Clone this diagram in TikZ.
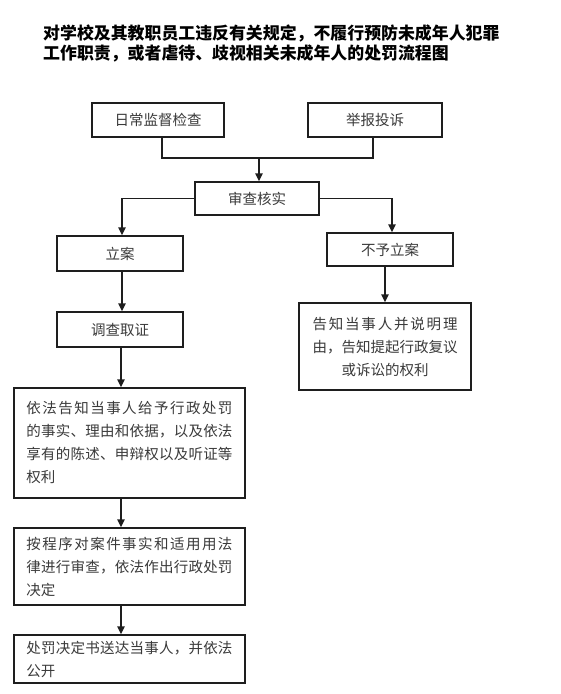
\documentclass[tikz,border=0pt]{standalone}
\usepackage{fontspec}
\setmainfont{Noto Sans CJK SC}
\usetikzlibrary{arrows.meta}
\setlength\parindent{0pt}
\makeatletter
\def\spr@ad#1#2\@nil{#1\ifx\relax#2\relax\else\hfill\spr@ad#2\@nil\fi}
\newcommand\spreadto[2]{\leavevmode\hbox to #1{\spr@ad#2\@nil}}
\makeatother
\definecolor{ln}{HTML}{1E1E1E}
\definecolor{tx}{HTML}{3A3A3A}
\tikzset{
  box/.style={draw=ln, line width=1.4pt, rectangle, inner sep=0pt, text=tx,
    font=\fontsize{14.5pt}{23pt}\selectfont},
  widebox/.style={box, minimum width=231pt, text width=206pt, align=left, inner xsep=12.5pt},
  conn/.style={draw=ln, line width=1.4pt},
  arr/.style={conn, -{Triangle[length=8pt,width=7.5pt]}},
}
\begin{document}
\begin{tikzpicture}[x=1pt,y=-1pt]
\useasboundingbox[fill=white] (0,0) rectangle (561,694);
\node[anchor=west, align=left, inner sep=0pt, font=\fontsize{16.9pt}{20pt}\selectfont\bfseries] (title) at (43,43)
  {对学校及其教职员工违反有关规定，不履行预防未成年人犯罪\\工作职责，或者虐待、歧视相关未成年人的处罚流程图};
\node[box, minimum width=132pt, minimum height=34pt] (a) at (158,120) {日常监督检查};
\node[box, minimum width=134pt, minimum height=34pt] (b) at (375,120) {举报投诉};
\node[box, minimum width=124pt, minimum height=33pt] (c) at (257,198.5) {审查核实};
\node[box, minimum width=126pt, minimum height=35pt] (d) at (120,253.5) {立案};
\node[box, minimum width=126pt, minimum height=33pt] (e) at (390,249.5) {不予立案};
\node[box, minimum width=126pt, minimum height=35pt] (f) at (120,329.5) {调查取证};
\node[box, minimum width=172pt, minimum height=87pt, align=center] (g) at (385,346.5)
  {\spreadto{145pt}{告知当事人并说明理}\\由，告知提起行政复议\\或诉讼的权利};
\node[widebox, minimum height=110pt] (h) at (129.5,443)
  {\spreadto{206pt}{依法告知当事人给予行政处罚}\\\spreadto{206pt}{的事实、理由和依据，以及依法}\\\spreadto{206pt}{享有的陈述、申辩权以及听证等}\\权利};
\node[widebox, minimum height=77pt] (i) at (129.5,566.5)
  {\spreadto{206pt}{按程序对案件事实和适用用法}\\\spreadto{206pt}{律进行审查，依法作出行政处罚}\\决定};
\node[widebox, minimum height=48pt] (k) at (129.5,659)
  {\spreadto{206pt}{处罚决定书送达当事人，并依法}\\公开};
\coordinate (j) at (259,158);
\coordinate (colx) at (121,0);
\draw[conn] ([xshift=4pt]a.south) |- (j) -| ([xshift=-2pt]b.south);
\draw[arr] (j) -- (j |- c.north);
\draw[arr] (c.west) -| ([xshift=2pt]d.north);
\draw[arr] (c.east) -| ([xshift=2pt]e.north);
\draw[arr] ([xshift=2pt]d.south) -- ([xshift=2pt]f.north);
\draw[arr] (g.north |- e.south) -- (g.north);
\draw[arr] (colx |- f.south) -- (colx |- h.north);
\draw[arr] (colx |- h.south) -- (colx |- i.north);
\draw[arr] (colx |- i.south) -- (colx |- k.north);
\end{tikzpicture}
\end{document}
